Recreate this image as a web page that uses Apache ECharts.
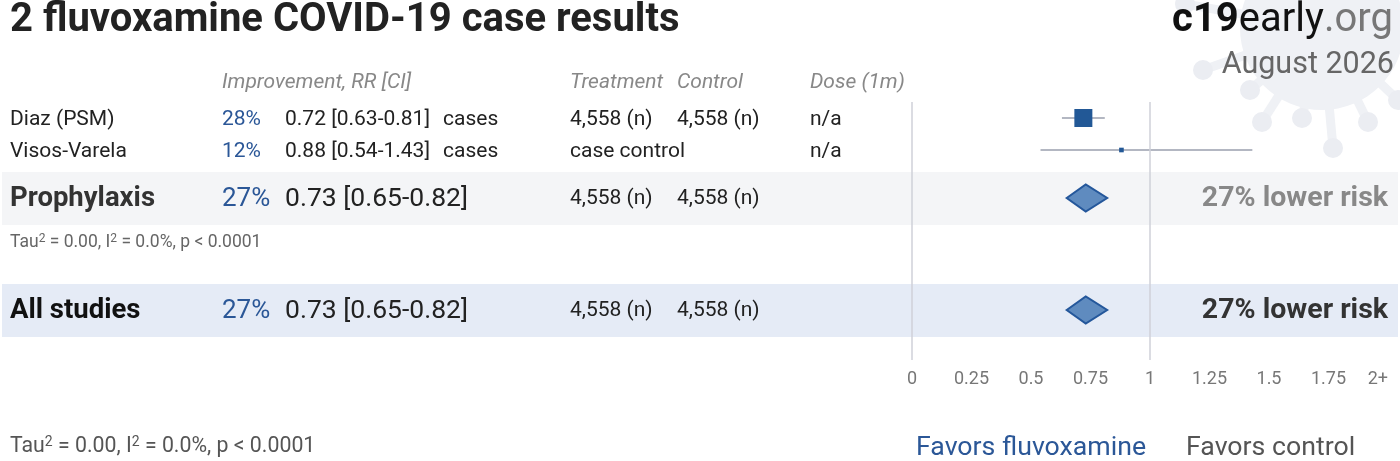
<!DOCTYPE html>
<html>
<head>
<meta charset="utf-8">
<script src="https://cdn.jsdelivr.net/npm/echarts@6/dist/echarts.min.js"></script>
<style>
html,body{margin:0;padding:0;background:#fff;}
#chart{width:1400px;height:461px;}
</style>
</head>
<body>
<div id="chart"></div>
<script>
// studies
var studyNames = ['Diaz (PSM)', 'Visos-Varela'];
var studyRR = [0.72, 0.88];
var studyLo = [0.63, 0.54];
var studyHi = [0.81, 1.43];
var studyOutcome = ['cases', 'cases'];
var studyTreatment = ['4,558 (n)', 'case control'];
var studyControl = ['4,558 (n)', ''];
var studyDose = ['n/a', 'n/a'];
var studyWeight = [93.8, 6.2];
// pooled
var summaryNames = ['Prophylaxis', 'All studies'];
var summaryRR = [0.73, 0.73];
var summaryLo = [0.65, 0.65];
var summaryHi = [0.82, 0.82];
var summaryTreatment = ['4,558 (n)', '4,558 (n)'];
var summaryControl = ['4,558 (n)', '4,558 (n)'];
var statsText = '{n|Tau}{s|2}{n| = 0.00, I}{s|2}{n| = 0.0%, p < 0.0001}';
// x axis
var tickValues = [0, 0.25, 0.5, 0.75, 1, 1.25, 1.5, 1.75, 2];
var tickLabels = ['0', '0.25', '0.5', '0.75', '1', '1.25', '1.5', '1.75', '2+'];

var FONT = 'Roboto, "Noto Sans", sans-serif';
var BLUE = '#2b5797';
// row slots (16px each)
var studyRow = [0, 2];
var summaryRow = [5, 12];

var chart = echarts.init(document.getElementById('chart'));

function txt(x, y, s, size, color, weight, style, align) {
  return {type: 'text', style: {x: x, y: y, text: s, fill: color, fontSize: size,
    fontFamily: FONT, fontWeight: weight || 'normal', fontStyle: style || 'normal',
    align: align || 'left', verticalAlign: 'middle'}};
}
function gtext(x, y, s, size, color, weight, align, style) {
  return {type: 'text', x: x, y: y, z: 10, style: {text: s, fill: color, fontSize: size,
    fontFamily: FONT, fontWeight: weight || 'normal', fontStyle: style || 'normal',
    align: align || 'left', verticalAlign: 'middle'}};
}
function stats(x, y, size, color) {
  return {type: 'text', x: x, y: y, z: 10, style: {text: statsText, align: 'left', verticalAlign: 'middle',
    rich: {
      n: {fontSize: size, fill: color, color: color, fontFamily: FONT, lineHeight: size + 2},
      s: {fontSize: Math.round(size * 0.66), fill: color, color: color, fontFamily: FONT, verticalAlign: 'top', lineHeight: size + 2}
    }}};
}
function pct(rr) { return Math.round((1 - rr) * 100) + '%'; }
function rrText(i, rr, lo, hi) { return rr[i].toFixed(2) + ' [' + lo[i].toFixed(2) + '-' + hi[i].toFixed(2) + ']'; }

var studyData = studyNames.map(function (n, i) { return [studyRR[i], studyRow[i], studyLo[i], studyHi[i], i]; });
var summaryData = summaryNames.map(function (n, i) { return [summaryRR[i], summaryRow[i], summaryLo[i], summaryHi[i], i]; });
var maxW = Math.max.apply(null, studyWeight);

// virus watermark
var VC = '#eff1f5';
var virus = [{type: 'circle', shape: {cx: 1322, cy: 28, r: 82}, style: {fill: VC}, z: -10}];
[[1185, 4], [1203, 70], [1250, 90], [1262, 122], [1302, 118], [1333, 148], [1368, 122], [1398, 100]].forEach(function (p) {
  virus.push({type: 'line', shape: {x1: 1322, y1: 28, x2: p[0], y2: p[1]}, style: {stroke: VC, lineWidth: 9}, z: -10});
  virus.push({type: 'circle', shape: {cx: p[0], cy: p[1], r: 10}, style: {fill: '#ebedf2'}, z: -10});
});

var option = {
  animation: false,
  backgroundColor: '#fff',
  grid: {left: 912, right: 12, top: 102, bottom: 101},
  xAxis: {
    type: 'value', min: 0, max: 2, interval: 0.25,
    axisLine: {show: false}, axisTick: {show: false}, splitLine: {show: false},
    axisLabel: {
      margin: 10, color: '#777', fontSize: 18, fontFamily: FONT, alignMaxLabel: 'right',
      formatter: function (v) { var k = tickValues.indexOf(v); return k >= 0 ? tickLabels[k] : ''; }
    }
  },
  yAxis: {type: 'value', min: -1, max: 15.125, inverse: true, show: false},
  graphic: [
    {type: 'group', children: virus, z: -10},
    gtext(10, 21, '2 fluvoxamine COVID-19 case results', 40, '#222', 'bold'),
    {type: 'text', x: 1393, y: 21, z: 10, style: {text: '{b|c19}{n|early}{g|.org}', align: 'right', verticalAlign: 'middle', rich: {
      b: {fontSize: 40, fontWeight: 'bold', fill: '#111', color: '#111', fontFamily: FONT},
      n: {fontSize: 40, fill: '#111', color: '#111', fontFamily: FONT},
      g: {fontSize: 40, fill: '#777', color: '#777', fontFamily: FONT}}}},
    gtext(1394, 65, 'August 2026', 30.5, '#666', 'normal', 'right'),
    gtext(222, 83, 'Improvement, RR [CI]', 21, '#888', 'normal', 'left', 'italic'),
    gtext(570, 83, 'Treatment', 21, '#888', 'normal', 'left', 'italic'),
    gtext(677, 83, 'Control', 21, '#888', 'normal', 'left', 'italic'),
    gtext(810, 83, 'Dose (1m)', 21, '#888', 'normal', 'left', 'italic'),
    stats(10, 243, 17.5, '#666'),
    stats(10, 447, 21.3, '#555'),
    gtext(916, 448, 'Favors fluvoxamine', 26.7, BLUE),
    gtext(1186, 448, 'Favors control', 26.7, '#555')
  ],
  series: [
    { // row bands + reference lines
      type: 'custom', z: 0, silent: true, clip: false,
      data: summaryData,
      renderItem: function (params, api) {
        var y = api.coord([0, api.value(1)])[1];
        return {type: 'rect', shape: {x: 2, y: y - 26, width: 1396, height: 53},
          style: {fill: api.value(4) === 0 ? '#f4f5f7' : '#e5ebf6'}};
      },
      markLine: {
        silent: true, symbol: 'none', label: {show: false},
        lineStyle: {color: '#cfd0d8', width: 1.5, type: 'solid'},
        data: [{xAxis: 0}, {xAxis: 1}]
      }
    },
    { // CI whiskers
      type: 'custom', z: 2, silent: true, clip: false,
      data: studyData,
      renderItem: function (params, api) {
        var a = api.coord([api.value(2), api.value(1)]);
        var b = api.coord([api.value(3), api.value(1)]);
        return {type: 'line', shape: {x1: a[0], y1: a[1], x2: b[0], y2: b[1]},
          style: {stroke: '#b3b7c2', lineWidth: 2}};
      }
    },
    { // study squares
      type: 'scatter', z: 3, silent: true, symbol: 'rect',
      data: studyData,
      symbolSize: function (v) { return 18 * Math.sqrt(studyWeight[v[4]] / maxW); },
      itemStyle: {color: '#225896', opacity: 1}
    },
    { // pooled diamonds
      type: 'custom', z: 3, silent: true, clip: false,
      data: summaryData,
      renderItem: function (params, api) {
        var c = api.coord([api.value(0), api.value(1)]);
        var l = api.coord([api.value(2), api.value(1)]);
        var r = api.coord([api.value(3), api.value(1)]);
        return {type: 'polygon', shape: {points: [[l[0], c[1]], [c[0], c[1] - 13.5], [r[0], c[1]], [c[0], c[1] + 13.5]]},
          style: {fill: '#5f8bbf', stroke: '#24579b', lineWidth: 2}};
      }
    },
    { // study table text
      type: 'custom', z: 5, silent: true, clip: false,
      data: studyData,
      renderItem: function (params, api) {
        var i = api.value(4);
        var y = api.coord([0, api.value(1)])[1] + 1.5;
        return {type: 'group', children: [
          txt(10, y, studyNames[i], 21, '#222'),
          txt(222, y, pct(studyRR[i]), 21, BLUE),
          txt(285, y, rrText(i, studyRR, studyLo, studyHi), 21, '#222'),
          txt(443, y, studyOutcome[i], 21, '#222'),
          txt(570, y, studyTreatment[i], 21, '#222'),
          txt(677, y, studyControl[i], 21, '#222'),
          txt(810, y, studyDose[i], 21, '#222')
        ]};
      }
    },
    { // pooled table text
      type: 'custom', z: 5, silent: true, clip: false,
      data: summaryData,
      renderItem: function (params, api) {
        var i = api.value(4);
        var y = api.coord([0, api.value(1)])[1] + 1;
        return {type: 'group', children: [
          txt(10, y, summaryNames[i], 27.5, i === 0 ? '#333' : '#111', 'bold'),
          txt(222, y, pct(summaryRR[i]), 26, BLUE),
          txt(285, y, rrText(i, summaryRR, summaryLo, summaryHi), 26.5, '#222'),
          txt(570, y, summaryTreatment[i], 21, '#222'),
          txt(677, y, summaryControl[i], 21, '#222'),
          txt(1388, y, pct(summaryRR[i]) + ' lower risk', 28.5, i === 0 ? '#888' : '#333', 'bold', 'normal', 'right')
        ]};
      }
    }
  ]
};
chart.setOption(option);
</script>
</body>
</html>
